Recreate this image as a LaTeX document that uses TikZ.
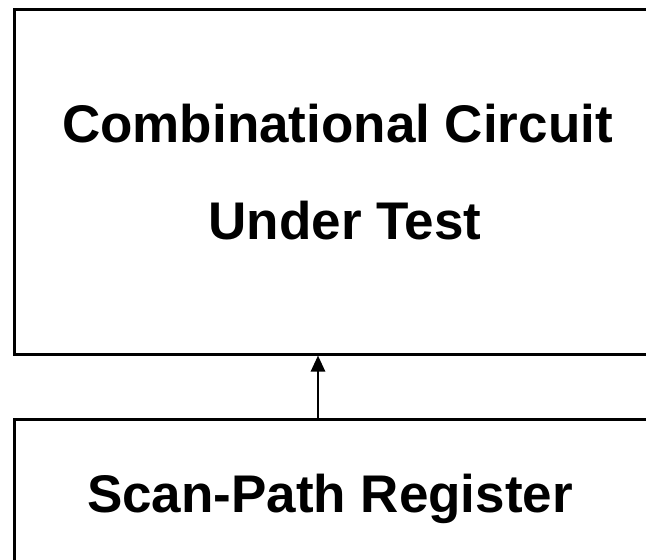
\documentclass[tikz,border=0pt]{standalone}
\usepackage{fontspec}
\setmainfont{Liberation Sans}
\usetikzlibrary{arrows.meta}
\begin{document}
\begin{tikzpicture}[x=1pt,y=-1pt,
  blk/.style={draw=black,line width=3pt,rectangle,inner sep=0pt},
  lbl/.style={font=\bfseries\fontsize{53}{60}\selectfont,anchor=base,inner sep=0pt},
  conn/.style={line width=2.6pt,-{Triangle[length=16pt,width=14pt]}}]
\useasboundingbox (0,0) rectangle (646,560);
\clip (0,0) rectangle (646,560);
\fill[white] (0,0) rectangle (646,560);
\node[blk,minimum width=686pt,minimum height=345pt] (box1) at (357,181.5) {};
\node[blk,minimum width=686pt,minimum height=281pt] (box2) at (357,559.5) {};
\node[lbl] (t1) at (337.5,142) {Combinational Circuit};
\node[lbl] (t2) at (345,239) {Under Test};
\node[lbl] (t3) at (330,512) {Scan-Path Register};
\coordinate (ax) at (318,0);
\draw[conn] (ax |- box2.north) -- (ax |- box1.south);
\end{tikzpicture}
\end{document}
